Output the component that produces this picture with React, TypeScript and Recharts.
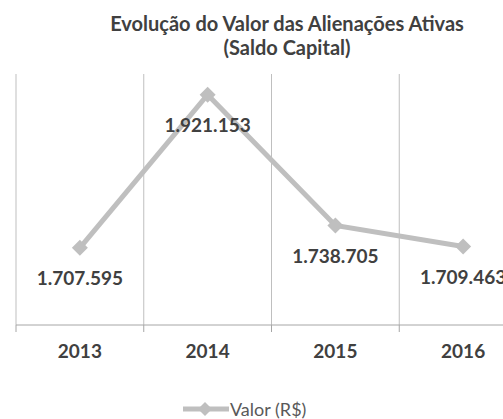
import React from 'react';
import { LineChart, Line, XAxis, YAxis, CartesianGrid, LabelList } from 'recharts';

const YEARS = ['2013', '2014', '2015', '2016'];
const VALUES = [1707595, 1921153, 1738705, 1709463];
const BOUNDARY_TICKS = [0, 1, 2, 3, 4];
const CENTER_TICKS = [0.5, 1.5, 2.5, 3.5];
const Y_DOMAIN = [1600000, 1950000];

const LINE_COLOR = '#bfbfbf';
const TEXT_COLOR = '#404040';
const FONT = 'Lato, "Open Sans", sans-serif';

const chartData = YEARS.map((year, i) => ({ x: i + 0.5, year, value: VALUES[i] }));

const fmt = (v: number) => String(v).replace(/\B(?=(\d{3})+(?!\d))/g, '.');

function Diamond(props: any) {
  const { cx, cy } = props;
  if (cx == null || cy == null) return null;
  const r = 8;
  return (
    <polygon
      points={`${cx},${cy - r} ${cx + r},${cy} ${cx},${cy + r} ${cx - r},${cy}`}
      fill={LINE_COLOR}
    />
  );
}

export default function App() {
  return (
    <div
      style={{
        position: 'absolute',
        left: 0,
        top: 0,
        width: 503,
        height: 419,
        overflow: 'hidden',
        background: '#fff',
        fontFamily: FONT,
      }}
    >
      <div
        style={{
          position: 'absolute',
          top: 11,
          left: 0,
          width: 574,
          textAlign: 'center',
          fontWeight: 700,
          fontSize: 20,
          lineHeight: '24px',
          color: TEXT_COLOR,
        }}
      >
        Evolução do Valor das Alienações Ativas
        <br />
        (Saldo Capital)
      </div>

      <LineChart
        width={560}
        height={419}
        data={chartData}
        margin={{ top: 74, right: 33, left: 16, bottom: 46 }}
      >
        <CartesianGrid xAxisId="grid" horizontal={false} stroke={LINE_COLOR} />
        <XAxis
          xAxisId="grid"
          dataKey="x"
          type="number"
          domain={[0, 4]}
          ticks={BOUNDARY_TICKS}
          tickFormatter={() => ''}
          tickSize={7}
          height={8}
          stroke="#a6a6a6"
          tickLine={{ stroke: '#a6a6a6' }}
          axisLine={{ stroke: '#a6a6a6' }}
        />
        <XAxis
          xAxisId="labels"
          dataKey="x"
          type="number"
          domain={[0, 4]}
          ticks={CENTER_TICKS}
          tickFormatter={(v: number) => YEARS[Math.floor(v)]}
          axisLine={false}
          tickLine={false}
          tickMargin={6}
          height={40}
          tick={{ fill: TEXT_COLOR, fontSize: 19, fontWeight: 700, fontFamily: FONT }}
        />
        <YAxis hide domain={Y_DOMAIN} />
        <Line
          xAxisId="labels"
          dataKey="value"
          stroke={LINE_COLOR}
          strokeWidth={5}
          dot={<Diamond />}
          activeDot={false}
          isAnimationActive={false}
        >
          <LabelList
            dataKey="value"
            position="bottom"
            offset={24}
            formatter={(v: any) => fmt(Number(v))}
            style={{ fill: TEXT_COLOR, fontSize: 19, fontWeight: 700, fontFamily: FONT }}
          />
        </Line>
      </LineChart>

      <div
        style={{
          position: 'absolute',
          left: 183,
          top: 399,
          display: 'flex',
          alignItems: 'center',
          color: '#595959',
          fontSize: 18,
          lineHeight: '20px',
        }}
      >
        <svg width={46} height={18} style={{ marginRight: 1 }}>
          <line x1={0} y1={9} x2={46} y2={9} stroke={LINE_COLOR} strokeWidth={5} />
          <polygon points="22,2 29,9 22,16 15,9" fill={LINE_COLOR} />
        </svg>
        <span>Valor (R$)</span>
      </div>
    </div>
  );
}
